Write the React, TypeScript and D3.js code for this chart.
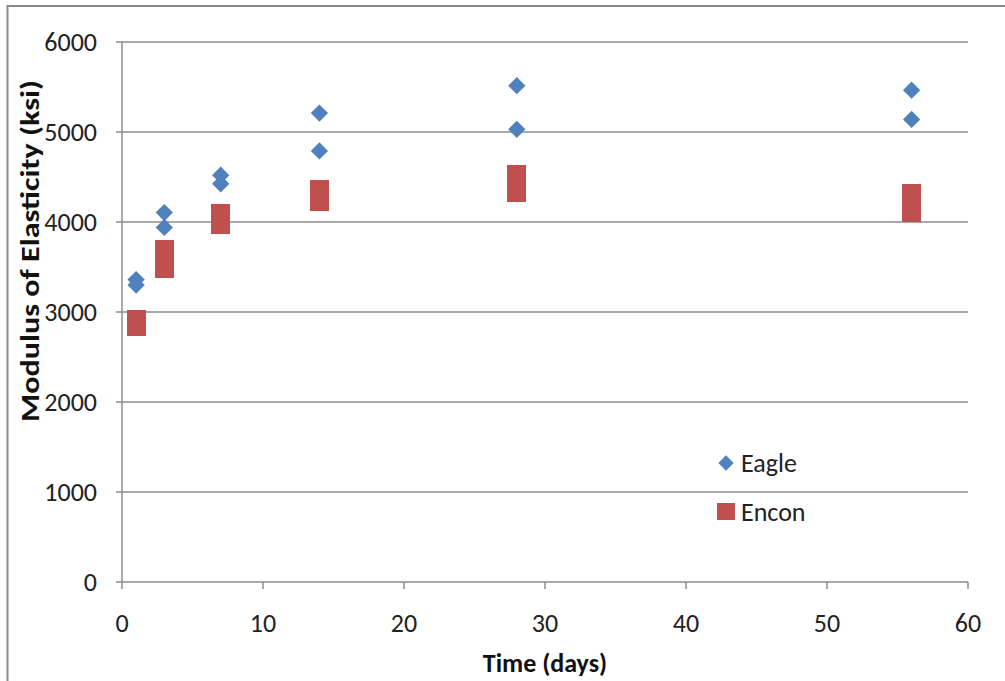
import React from "react";
import * as d3 from "d3";

// days of testing and measured modulus (ksi)
const eagleDays = [1, 1, 3, 3, 7, 7, 14, 14, 28, 28, 56, 56];
const eagleValues = [3360, 3300, 4105, 3940, 4520, 4425, 5210, 4790, 5515, 5030, 5465, 5140];
const enconDays = [1, 1, 3, 3, 7, 7, 14, 14, 28, 28, 56, 56];
const enconValues = [2915, 2840, 3700, 3480, 4090, 3975, 4365, 4230, 4530, 4325, 4320, 4105];
const xTicks = [0, 10, 20, 30, 40, 50, 60];
const yTicks = [0, 1000, 2000, 3000, 4000, 5000, 6000];

const W = 1005;
const H = 681;
const FONT = "Carlito, Calibri, Lato, sans-serif";
const BLUE = "#4F81BD";
const RED = "#C0504D";

export default function App() {
  const x = d3.scaleLinear().domain([0, 60]).range([122, 968]);
  const y = d3.scaleLinear().domain([0, 6000]).range([582, 42]);
  const diamond = d3.symbol().type(d3.symbolDiamond2).size(190)();
  const sq = 19;

  return (
    <svg
      width={W}
      height={H}
      style={{ position: "absolute", left: 0, top: 0, background: "#fff" }}
      fontFamily={FONT}
    >
      <rect x={7.5} y={6} width={1010} height={690} fill="#fff" stroke="#8a8a8a" strokeWidth={2} />

      {/* horizontal gridlines */}
      {yTicks.map((t) => (
        <g key={t}>
          {t > 0 && (
            <line x1={x(0)} x2={x(60)} y1={y(t)} y2={y(t)} stroke="#8c8c8c" strokeWidth={1.5} />
          )}
          <line x1={x(0) - 6} x2={x(0)} y1={y(t)} y2={y(t)} stroke="#8c8c8c" strokeWidth={1.5} />
          <text x={97} y={y(t)} dy="0.35em" textAnchor="end" fontSize={26} fill="#222">
            {t}
          </text>
        </g>
      ))}

      {/* axes */}
      <line x1={x(0)} x2={x(0)} y1={y(6000)} y2={y(0)} stroke="#8c8c8c" strokeWidth={1.5} />
      <line x1={x(0)} x2={x(60)} y1={y(0)} y2={y(0)} stroke="#8c8c8c" strokeWidth={1.5} />
      {xTicks.map((t) => (
        <g key={t}>
          <line x1={x(t)} x2={x(t)} y1={y(0)} y2={y(0) + 7} stroke="#8c8c8c" strokeWidth={1.5} />
          <text x={x(t)} y={632} textAnchor="middle" fontSize={26} fill="#222">
            {t}
          </text>
        </g>
      ))}

      {/* Encon squares */}
      <g shapeRendering="crispEdges">
        {enconDays.map((d, i) => (
          <rect
            key={"e" + i}
            x={x(d) - sq / 2}
            y={y(enconValues[i]) - sq / 2}
            width={sq}
            height={sq}
            fill={RED}
          />
        ))}
      </g>

      {/* Eagle diamonds */}
      {eagleDays.map((d, i) => (
        <path key={"g" + i} d={diamond} transform={`translate(${x(d)},${y(eagleValues[i])})`} fill={BLUE} />
      ))}

      {/* legend */}
      <path d={d3.symbol().type(d3.symbolDiamond2).size(150)()} transform="translate(726,463)" fill={BLUE} />
      <text x={741} y={472} fontSize={26} fill="#222">Eagle</text>
      <rect x={717} y={503} width={18} height={17} fill={RED} />
      <text x={741} y={521} fontSize={26} fill="#222">Encon</text>

      {/* axis titles */}
      <text x={545} y={672} textAnchor="middle" fontSize={26} fontWeight="bold" fill="#111">
        Time (days)
      </text>
      <text
        transform={`translate(39,${251}) rotate(-90)`}
        textAnchor="middle"
        fontSize={26}
        fontWeight="bold"
        fill="#111"
        textLength={342}
        lengthAdjust="spacingAndGlyphs"
      >
        Modulus of Elasticity (ksi)
      </text>
    </svg>
  );
}
